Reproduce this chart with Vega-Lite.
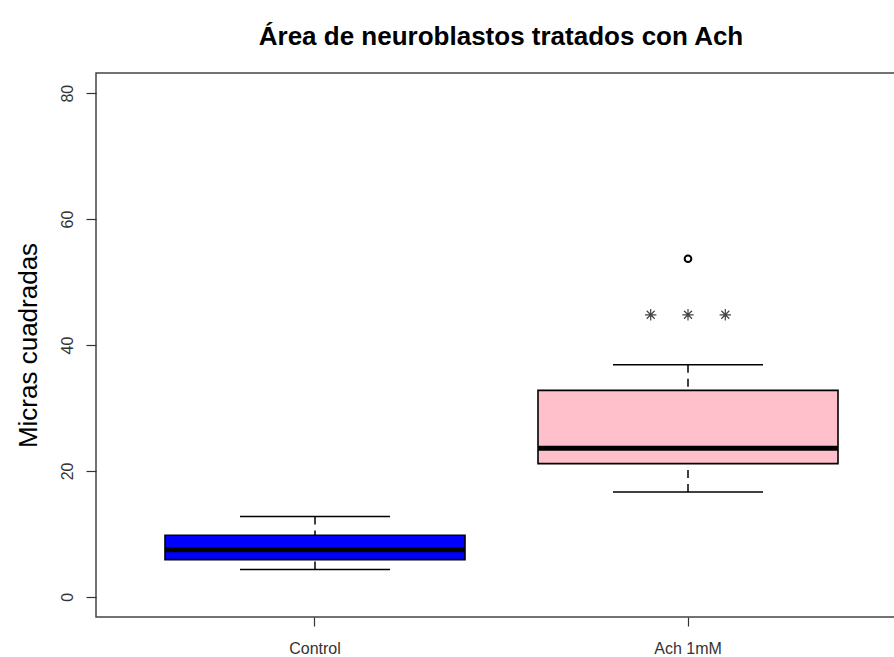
{
  "$schema": "https://vega.github.io/schema/vega-lite/v6.json",
  "width": 798,
  "height": 544,
  "autosize": "none",
  "padding": {"left": 96, "top": 73, "right": 0, "bottom": 40},
  "background": "white",
  "title": {
    "text": "Área de neuroblastos tratados con Ach",
    "font": "Liberation Sans",
    "fontSize": 26,
    "fontWeight": "bold",
    "color": "#000",
    "anchor": "middle",
    "dx": 6,
    "baseline": "alphabetic",
    "offset": 2
  },
  "config": {
    "font": "Liberation Sans",
    "view": {"stroke": "#444", "strokeWidth": 1.5, "strokeDash": [798, 544, 1342]},
    "axis": {
      "domain": false,
      "grid": false,
      "labelFont": "Liberation Sans",
      "labelFontSize": 16,
      "labelColor": "#333",
      "tickColor": "#333",
      "tickWidth": 1.2
    }
  },
  "datasets": {
    "cajas": [
      {"grupo": "Control", "minimo": 4.33, "q1": 5.92, "mediana": 7.5, "q3": 9.78, "maximo": 12.75},
      {"grupo": "Ach 1mM", "minimo": 16.67, "q1": 21.16, "mediana": 23.6, "q3": 32.8, "maximo": 36.87}
    ],
    "atipicos": [
      {"grupo": "Ach 1mM", "valor": 53.7, "simbolo": "circulo", "desplazamiento": 0},
      {"grupo": "Ach 1mM", "valor": 44.8, "simbolo": "asterisco", "desplazamiento": -0.1},
      {"grupo": "Ach 1mM", "valor": 44.8, "simbolo": "asterisco", "desplazamiento": 0},
      {"grupo": "Ach 1mM", "valor": 44.8, "simbolo": "asterisco", "desplazamiento": 0.1}
    ]
  },
  "encoding": {
    "x": {
      "field": "grupo",
      "type": "nominal",
      "sort": ["Control", "Ach 1mM"],
      "scale": {"domain": ["Control", "Ach 1mM"], "paddingInner": 0, "paddingOuter": 0.0697, "align": 0.625},
      "axis": {"title": null, "labelAngle": 0, "tickSize": 9, "labelPadding": 14, "labelBaseline": "top"}
    }
  },
  "layer": [
    {
      "data": {"name": "cajas"},
      "mark": {"type": "rule", "strokeDash": [8, 6], "strokeWidth": 1.5, "color": "#000"},
      "encoding": {
        "y": {
          "field": "maximo",
          "type": "quantitative",
          "title": "Micras cuadradas",
          "scale": {"domain": [-3.2, 83.2], "nice": false, "zero": false},
          "axis": {
            "values": [0, 20, 40, 60, 80],
            "tickSize": 10,
            "labelAngle": -90,
            "labelAlign": "center",
            "labelBaseline": "alphabetic",
            "labelPadding": 14,
            "titleFont": "Liberation Sans",
            "titleFontSize": 26,
            "titleFontWeight": "normal",
            "titleColor": "#000",
            "titleAngle": -90,
            "titleBaseline": "alphabetic",
            "titleAlign": "center",
            "titleX": -60,
            "titleY": 272
          }
        },
        "y2": {"field": "q3"}
      }
    },
    {
      "data": {"name": "cajas"},
      "mark": {"type": "rule", "strokeDash": [8, 6], "strokeWidth": 1.5, "color": "#000"},
      "encoding": {
        "y": {"field": "minimo", "type": "quantitative", "title": "Micras cuadradas"},
        "y2": {"field": "q1"}
      }
    },
    {
      "data": {"name": "cajas"},
      "mark": {"type": "tick", "size": 150, "thickness": 1.5, "color": "#000", "opacity": 1},
      "encoding": {"y": {"field": "maximo", "type": "quantitative", "title": "Micras cuadradas"}}
    },
    {
      "data": {"name": "cajas"},
      "mark": {"type": "tick", "size": 150, "thickness": 1.5, "color": "#000", "opacity": 1},
      "encoding": {"y": {"field": "minimo", "type": "quantitative", "title": "Micras cuadradas"}}
    },
    {
      "data": {"name": "cajas"},
      "mark": {"type": "bar", "width": 300, "stroke": "#000", "strokeWidth": 1.6},
      "encoding": {
        "y": {"field": "q1", "type": "quantitative", "title": "Micras cuadradas"},
        "y2": {"field": "q3"},
        "fill": {
          "field": "grupo",
          "type": "nominal",
          "scale": {"domain": ["Control", "Ach 1mM"], "range": ["#0000FF", "#FFC0CB"]},
          "legend": null
        }
      }
    },
    {
      "data": {"name": "cajas"},
      "mark": {"type": "tick", "size": 300, "thickness": 5, "color": "#000", "opacity": 1},
      "encoding": {"y": {"field": "mediana", "type": "quantitative", "title": "Micras cuadradas"}}
    },
    {
      "data": {"name": "atipicos"},
      "mark": {"type": "point", "filled": false, "opacity": 1},
      "encoding": {
        "y": {"field": "valor", "type": "quantitative", "title": "Micras cuadradas"},
        "xOffset": {
          "field": "desplazamiento",
          "type": "quantitative",
          "scale": {"domain": [-0.5, 0.5], "range": [0, 373]}
        },
        "shape": {
          "field": "simbolo",
          "type": "nominal",
          "scale": {"domain": ["circulo", "asterisco"], "range": ["circle", "M-1,0L1,0M0,-1L0,1M-0.7,-0.7L0.7,0.7M-0.7,0.7L0.7,-0.7"]},
          "legend": null
        },
        "size": {
          "field": "simbolo",
          "type": "ordinal",
          "scale": {"domain": ["circulo", "asterisco"], "range": [45, 130]},
          "legend": null
        },
        "strokeWidth": {
          "field": "simbolo",
          "type": "ordinal",
          "scale": {"domain": ["circulo", "asterisco"], "range": [2, 1.2]},
          "legend": null
        },
        "stroke": {
          "field": "simbolo",
          "type": "nominal",
          "scale": {"domain": ["circulo", "asterisco"], "range": ["#000", "#444"]},
          "legend": null
        }
      }
    }
  ]
}
